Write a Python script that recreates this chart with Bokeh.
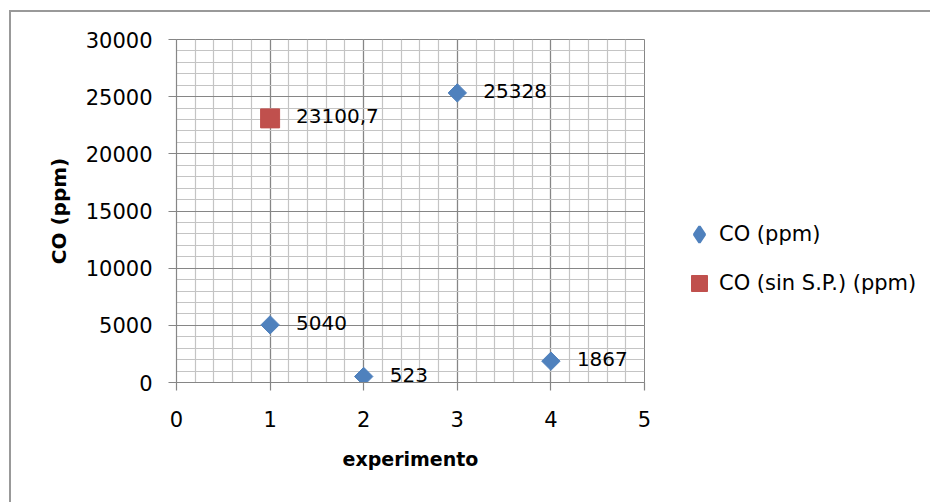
import math
from bokeh.plotting import figure
from bokeh.models import (Range1d, SingleIntervalTicker, ColumnDataSource, LabelSet,
                          Legend, LegendItem)
from bokeh.core.properties import value
from bokeh.embed import file_html
from bokeh.resources import INLINE

# ---- data ----
experimento = [1, 2, 3, 4]
co_ppm = [5040, 523, 25328, 1867]
experimento_sin = [1]
co_sin_ppm = [23100.7]
series_names = ["CO (ppm)", "CO (sin S.P.) (ppm)"]
x_title = "experimento"
y_title = "CO (ppm)"

BLUE = "#4f81bd"
RED = "#c0504d"
FONT = "DejaVu Sans"


def fmt(v):
    return f"{v:g}".replace(".", ",")


src_co = ColumnDataSource(dict(x=experimento, y=co_ppm, label=[fmt(v) for v in co_ppm]))
src_sin = ColumnDataSource(dict(x=experimento_sin, y=co_sin_ppm, label=[fmt(v) for v in co_sin_ppm]))

p = figure(frame_width=468, frame_height=343,
           x_range=Range1d(0, 5), y_range=Range1d(0, 30000),
           output_backend="svg", toolbar_location=None,
           min_border_left=165, min_border_top=27, min_border_right=286, min_border_bottom=120)
p.styles = {"margin-left": "9px", "margin-top": "10px",
            "border-left": "2px solid #999999", "border-top": "2px solid #999999"}

p.background_fill_color = "white"
p.border_fill_color = "white"
p.outline_line_color = "#868686"

xt = SingleIntervalTicker(interval=1, num_minor_ticks=5)
yt = SingleIntervalTicker(interval=5000, num_minor_ticks=5)
p.xaxis.ticker = xt
p.yaxis.ticker = yt
p.xgrid.ticker = xt
p.ygrid.ticker = yt

for g in (p.xgrid, p.ygrid):
    g.grid_line_color = "#868686"
    g.grid_line_width = 1.2
    g.minor_grid_line_color = "#c4c4c4"
    g.minor_grid_line_width = 1.2

for ax in (p.xaxis, p.yaxis):
    ax.axis_line_color = "#868686"
    ax.axis_line_width = 1.2
    ax.major_tick_line_color = "#868686"
    ax.major_tick_line_width = 1.2
    ax.major_tick_out = 8
    ax.major_tick_in = 0
    ax.minor_tick_line_color = None
    ax.major_label_text_font = FONT
    ax.major_label_text_font_size = "21px"
    ax.major_label_text_color = "black"
    ax.axis_label_text_font = FONT
    ax.axis_label_text_font_style = "bold"
    ax.axis_label_text_color = "black"

p.xaxis.axis_label = x_title
p.yaxis.axis_label = y_title
p.xaxis.axis_label_text_font_size = "19px"
p.yaxis.axis_label_text_font_size = "20px"
p.xaxis.major_label_standoff = 20
p.yaxis.major_label_standoff = 16
p.xaxis.axis_label_standoff = 18
p.yaxis.axis_label_standoff = 12

r_co = p.scatter("x", "y", source=src_co, marker="square", angle=math.pi / 4, size=13,
                 fill_color=BLUE, line_color=BLUE)
r_sin = p.scatter("x", "y", source=src_sin, marker="square", size=19,
                  fill_color=RED, line_color=RED)
# legend proxy (diamond shape) for the first series; zero size so it stays hidden in the plot
r_leg = p.scatter("x", "y", source=src_co, marker="diamond", size=0,
                  fill_color=BLUE, line_color=BLUE, line_width=2.5)

for src in (src_co, src_sin):
    p.add_layout(LabelSet(x="x", y="y", text="label", source=src, x_offset=26, y_offset=2,
                          text_baseline="middle", text_align="left",
                          text_font=value(FONT), text_font_size="20px", text_color="black"))

legend = Legend(items=[LegendItem(label=series_names[0], renderers=[r_leg]),
                       LegendItem(label=series_names[1], renderers=[r_sin])],
                location=(35, 79), padding=0, margin=0, border_line_color=None,
                background_fill_alpha=0, glyph_width=40, glyph_height=40, spacing=9,
                label_standoff=0, label_text_font=FONT, label_text_font_size="21px",
                label_text_color="black", label_text_baseline="middle")
p.add_layout(legend, "right")

open("out.html", "w").write(file_html(p, INLINE))
